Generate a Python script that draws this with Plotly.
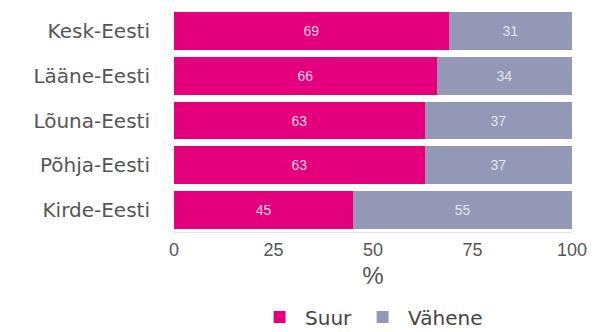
import plotly.graph_objects as go

regions = ["Kesk-Eesti", "Lääne-Eesti", "Lõuna-Eesti", "Põhja-Eesti", "Kirde-Eesti"]
suur = [69, 66, 63, 63, 45]
vahene = [31, 34, 37, 37, 55]
tick_vals = [0, 25, 50, 75, 100]

PINK = "#e4007c"
GREY = "#9398b6"
LABEL_FONT = "DejaVu Sans, Verdana, sans-serif"
NUM_FONT = "Liberation Sans, Arial, sans-serif"

fig = go.Figure()
fig.add_trace(go.Bar(
    y=regions, x=suur, name="Suur", orientation="h",
    marker=dict(color=PINK, line=dict(width=0)),
    text=suur, textposition="inside", insidetextanchor="middle",
    textfont=dict(color="#f3d2e4", size=14, family=NUM_FONT),
))
fig.add_trace(go.Bar(
    y=regions, x=vahene, name="Vähene", orientation="h",
    marker=dict(color=GREY, line=dict(width=0)),
    text=vahene, textposition="inside", insidetextanchor="middle",
    textfont=dict(color="#e3e4ee", size=14, family=NUM_FONT),
))

fig.update_layout(
    barmode="stack",
    bargap=0.15,
    width=595, height=332,
    margin=dict(l=174, r=23, t=9, b=100),
    paper_bgcolor="white", plot_bgcolor="white",
    font=dict(family=NUM_FONT, color="#555555"),
    showlegend=True,
    legend=dict(
        orientation="h", xref="container", yref="container",
        x=0.427, xanchor="left", y=0.045, yanchor="middle",
        font=dict(size=20, color="#444444", family=LABEL_FONT),
        itemwidth=41, traceorder="normal",
    ),
    uniformtext=dict(minsize=8, mode="show"),
)
fig.update_xaxes(
    range=[0, 100], tickvals=tick_vals, ticktext=[str(v) for v in tick_vals],
    tickfont=dict(size=18, color="#555555", family=NUM_FONT),
    showgrid=False, zeroline=False,
    showline=True, linecolor="#e6e6e6", linewidth=1,
    ticklabelstandoff=1,
    title=dict(text="%", font=dict(size=24, color="#555555", family=NUM_FONT), standoff=8),
)
fig.update_yaxes(
    categoryorder="array", categoryarray=regions[::-1],
    tickfont=dict(size=20, color="#555555", family=LABEL_FONT),
    showgrid=False, zeroline=False, ticks="", ticklabelstandoff=23,
)

fig.write_html("out.html")
